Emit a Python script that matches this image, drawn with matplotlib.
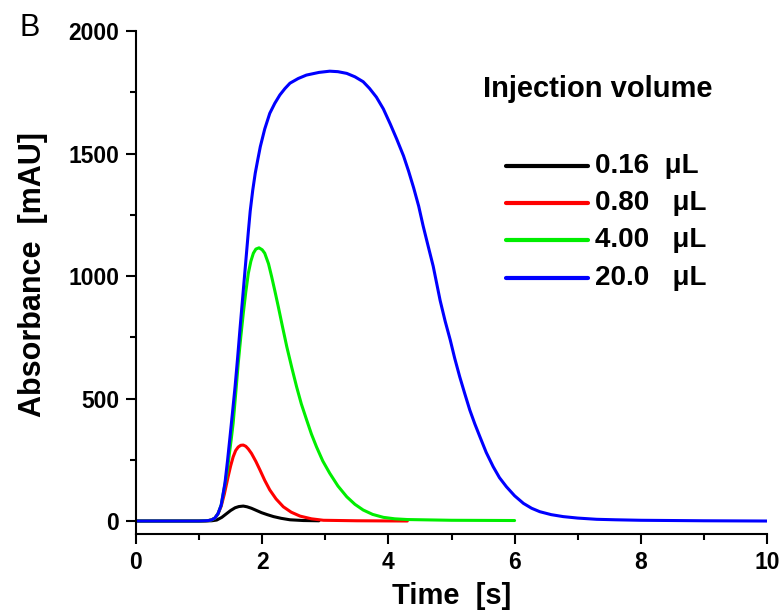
import matplotlib
matplotlib.use("Agg")
import matplotlib.pyplot as plt
from matplotlib.ticker import MultipleLocator

plt.rcParams['font.family'] = ['Liberation Sans', 'DejaVu Sans']
plt.rcParams['font.weight'] = 'bold'

# Chromatogram traces, one per injection volume
volume_labels = ["0.16  μL", "0.80   μL", "4.00   μL", "20.0   μL"]
colors = ["#000000", "#ff0000", "#00ee00", "#0000ff"]

t_016 = [0, 1.0, 1.2, 1.28, 1.36, 1.44, 1.50, 1.57, 1.63, 1.70, 1.76, 1.83,
         1.91, 1.99, 2.08, 2.18, 2.30, 2.44, 2.65, 2.9]
a_016 = [0, 0, 1, 4, 15, 31, 43, 54, 59, 61, 58, 52, 43, 34, 26, 18, 11, 5,
         2, 1]

t_080 = [0, 1.0, 1.10, 1.15, 1.20, 1.25, 1.30, 1.35, 1.40, 1.46, 1.50, 1.54,
         1.58, 1.62, 1.66, 1.70, 1.74, 1.78, 1.83, 1.90, 1.965, 2.04, 2.12,
         2.22, 2.335, 2.46, 2.6, 2.78, 2.97, 3.5, 4.3]
a_080 = [0, 0, 1, 2, 5, 12, 30, 60, 110, 181, 225, 262, 288, 302, 309, 310,
         305, 294, 276, 243, 208, 166, 127, 90, 58, 36, 20, 9, 3, 1, 0]

t_400 = [0, 1.0, 1.10, 1.15, 1.20, 1.25, 1.30, 1.35, 1.41, 1.45, 1.48, 1.51,
         1.54, 1.58, 1.62, 1.66, 1.70, 1.74, 1.78, 1.82, 1.86, 1.90, 1.95,
         2.00, 2.04, 2.10, 2.15, 2.20, 2.255, 2.32, 2.39, 2.47, 2.545, 2.62,
         2.705, 2.78, 2.86, 2.96, 3.07, 3.20, 3.34, 3.47, 3.60, 3.75, 3.92,
         4.1, 4.3, 5.0, 6.0]
a_400 = [0, 0, 1, 2, 5, 12, 30, 65, 150, 210, 275, 335, 400, 520, 643, 750,
         847, 935, 1011, 1060, 1093, 1110, 1115, 1107, 1093, 1050, 997, 940,
         875, 795, 711, 625, 548, 478, 412, 355, 303, 245, 195, 143, 99, 68,
         45, 27, 15, 9, 6, 3, 2]

t_200 = [0, 1.0, 1.10, 1.15, 1.20, 1.25, 1.30, 1.35, 1.41, 1.45, 1.49, 1.53,
         1.57, 1.61, 1.65, 1.69, 1.73, 1.78, 1.81, 1.85, 1.89, 1.93, 1.97,
         2.04, 2.12, 2.20, 2.28, 2.36, 2.44, 2.57, 2.70, 2.90, 3.07, 3.20,
         3.34, 3.47, 3.60, 3.70, 3.81, 3.92, 4.03, 4.13, 4.24, 4.32, 4.40,
         4.48, 4.55, 4.63, 4.71, 4.82, 4.90, 4.98, 5.05, 5.13, 5.21, 5.29,
         5.37, 5.45, 5.55, 5.66, 5.76, 5.87, 6.00, 6.14, 6.27, 6.40, 6.58,
         6.77, 7.0, 7.30, 7.6, 8.0, 9.0, 10.0]
a_200 = [0, 0, 1, 2, 5, 12, 30, 65, 155, 245, 344, 445, 548, 665, 790, 910,
         1030, 1180, 1265, 1350, 1420, 1475, 1528, 1600, 1664, 1705, 1739,
         1765, 1787, 1806, 1820, 1831, 1836, 1834, 1827, 1813, 1793, 1766,
         1730, 1682, 1620, 1560, 1490, 1428, 1360, 1285, 1205, 1122, 1040,
         900, 815, 739, 665, 589, 520, 453, 396, 344, 280, 222, 177, 140, 103,
         72, 52, 38, 26, 18, 12, 7, 5, 3, 1, 0]

times = [t_016, t_080, t_400, t_200]
absorb = [a_016, a_080, a_400, a_200]

x_ticks = [0, 2, 4, 6, 8, 10]
y_ticks = [0, 500, 1000, 1500, 2000]

fig = plt.figure(figsize=(7.8, 6.12), dpi=100)
ax = fig.add_axes([136 / 780, 1 - 534 / 612, 631 / 780, 503 / 612])

for t, a, c in zip(times, absorb, colors):
    ax.plot(t, a, color=c, lw=2.2, solid_capstyle='round',
            solid_joinstyle='round')

ax.set_xlim(0, 10)
ax.set_ylim(-53, 2000)
ax.set_xticks(x_ticks)
ax.set_yticks(y_ticks)
ax.xaxis.set_minor_locator(MultipleLocator(1))
ax.yaxis.set_minor_locator(MultipleLocator(250))

for side in ("top", "right"):
    ax.spines[side].set_visible(False)
for side in ("left", "bottom"):
    ax.spines[side].set_linewidth(1.5)

ax.tick_params(which='major', direction='out', length=7, width=1.5,
               labelsize=16.5, pad=5)
ax.tick_params(which='minor', direction='out', length=4, width=1.5)
for lbl in ax.get_xticklabels() + ax.get_yticklabels():
    lbl.set_fontweight('bold')

ax.set_xlabel("Time  [s]", fontsize=21, fontweight='bold')
ax.set_ylabel("Absorbance  [mAU]", fontsize=22, fontweight='bold')
ax.xaxis.set_label_coords(0.50, -0.095)
ax.yaxis.set_label_coords(-0.14, 0.515)

# Legend drawn in axes coordinates
def ax_xy(px, py):
    return (px - 136) / 631, (534 - py) / 503

tx, ty = ax_xy(483, 97)
ax.text(tx, ty, "Injection volume", transform=ax.transAxes, fontsize=21,
        fontweight='bold', ha='left', va='baseline')
row_y = [166, 203, 240, 278]
for lab, c, py in zip(volume_labels, colors, row_y):
    x0, y0 = ax_xy(506, py)
    x1, _ = ax_xy(588, py)
    ax.plot([x0, x1], [y0, y0], color=c, lw=3, transform=ax.transAxes,
            solid_capstyle='round')
    xt, _ = ax_xy(595, py)
    ax.text(xt, y0, lab, transform=ax.transAxes, fontsize=20,
            fontweight='bold', ha='left', va='center')

fig.text(20 / 780, 1 - 28 / 612, "B", fontsize=22, fontweight='normal',
         ha='left', va='center')

fig.savefig("out.png", dpi=100)
